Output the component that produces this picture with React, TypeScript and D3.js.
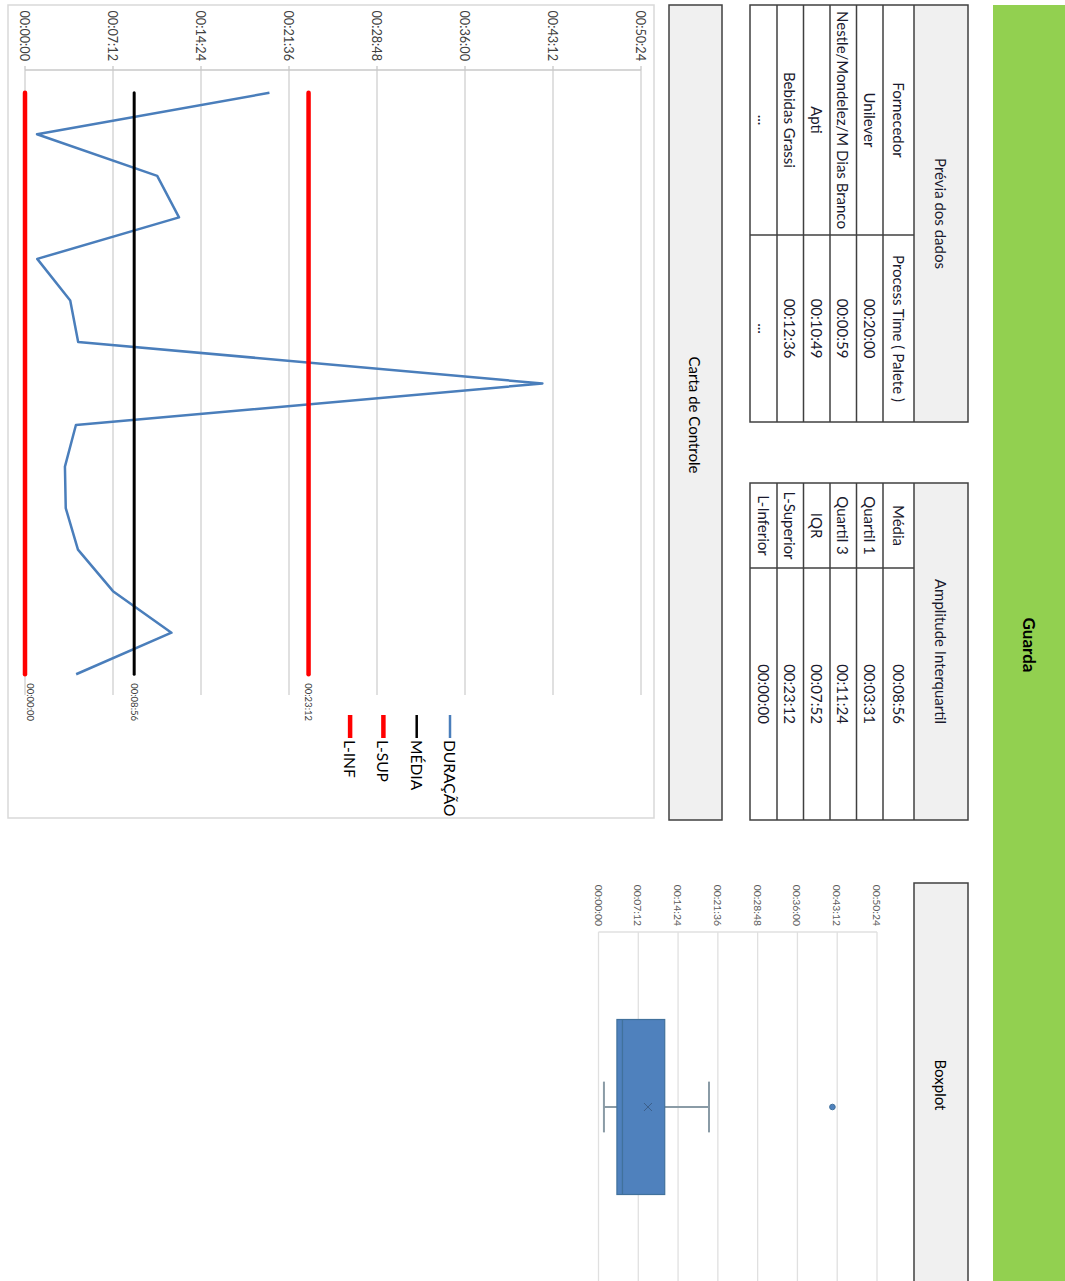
import * as d3 from 'd3'

const PAGE_W = 1065
const PAGE_H = 1281
const FONT = "Lato, 'Liberation Sans', sans-serif"
const BORDER = '#404040'
const HEAD_FILL = '#f0f0f0'

// preview table
const PREVIEW_COLS = ['Fornecedor', 'Process Time ( Palete )']
const SUPPLIERS = ['Unilever', 'Nestle/Mondelez/M Dias Branco', 'Apti', 'Bebidas Grassi', '...']
const PROCESS_TIMES = ['00:20:00', '00:00:59', '00:10:49', '00:12:36', '...']

// interquartile table
const STAT_LABELS = ['Média', 'Quartil 1', 'Quartil 3', 'IQR', 'L-Superior', 'L-Inferior']
const STAT_VALUES = ['00:08:56', '00:03:31', '00:11:24', '00:07:52', '00:23:12', '00:00:00']

// control chart series (seconds)
const DURATION = [1200, 59, 649, 756, 60, 222, 261, 2540, 250, 196, 200, 260, 432, 719, 251]
const LIMIT_NAMES = ['MÉDIA', 'L-SUP', 'L-INF']
const LIMIT_VALUES = [536, 1392, 0]
const LIMIT_COLORS = ['#000000', '#ff0000', '#ff0000']
const LIMIT_WIDTHS = [3, 4.5, 4.5]
const LEGEND_NAMES = ['DURAÇÃO', 'MÉDIA', 'L-SUP', 'L-INF']
const LEGEND_COLORS = ['#4a7ebb', '#000000', '#ff0000', '#ff0000']

// axis ticks every 7:12
const TICKS = d3.range(0, 3024 + 1, 432)

const fmt = (s: number) => d3.utcFormat('%H:%M:%S')(new Date(s * 1000))

function quartileExc(sorted: number[], p: number) {
  const pos = p * (sorted.length + 1) - 1
  const lo = Math.floor(pos)
  const frac = pos - lo
  const hi = Math.min(lo + 1, sorted.length - 1)
  return sorted[lo] + (sorted[hi] - sorted[lo]) * frac
}

// everything below is laid out on the landscape sheet (u across, v down)
// and the whole sheet is turned 90deg clockwise at the end
function Table({ u0, u1, split, title, rows }: { u0: number; u1: number; split: number; title: string; rows: string[][] }) {
  const lines = [97, 151, 182, 208.5, 235, 261.5, 288, 315]
  return (
    <g fontFamily={FONT} fontSize={15} fill="#1a1a2e">
      <rect x={u0} y={97} width={u1 - u0} height={54} fill={HEAD_FILL} />
      <rect x={u0} y={97} width={u1 - u0} height={218} fill="none" stroke={BORDER} strokeWidth={1.5} />
      {lines.slice(1, -1).map((v) => (
        <line key={v} x1={u0} x2={u1} y1={v} y2={v} stroke={BORDER} strokeWidth={1.5} />
      ))}
      <line x1={split} x2={split} y1={151} y2={315} stroke={BORDER} strokeWidth={1.5} />
      <text x={(u0 + u1) / 2} y={124} textAnchor="middle" dominantBaseline="central">
        {title}
      </text>
      {rows.map((r, i) => (
        <g key={i}>
          <text x={(u0 + split) / 2} y={(lines[i + 1] + lines[i + 2]) / 2} textAnchor="middle" dominantBaseline="central">
            {r[0]}
          </text>
          <text x={(split + u1) / 2} y={(lines[i + 1] + lines[i + 2]) / 2} textAnchor="middle" dominantBaseline="central">
            {r[1]}
          </text>
        </g>
      ))}
    </g>
  )
}

function ControlChart() {
  const x = d3.scalePoint<number>().domain(d3.range(DURATION.length)).range([72, 695]).padding(0.5)
  const y = d3.scaleLinear().domain([0, 3024]).range([1040, 424])
  const line = d3
    .line<number>()
    .x((_, i) => x(i) ?? 0)
    .y((d) => y(d))
  const first = x(0) ?? 0
  const last = x(DURATION.length - 1) ?? 0

  return (
    <g fontFamily={FONT}>
      <rect x={5} y={411} width={813} height={646} fill="#fff" stroke="#d9d9d9" strokeWidth={1.5} />
      {TICKS.map((t) => (
        <g key={t}>
          <line x1={70} x2={695} y1={y(t)} y2={y(t)} stroke="#d0d0d0" strokeWidth={1.3} />
          <line x1={66} x2={70} y1={y(t)} y2={y(t)} stroke="#c8c8c8" strokeWidth={1.3} />
          <text x={61} y={y(t)} textAnchor="end" dominantBaseline="central" fontSize={12.7} fill="#404040">
            {fmt(t)}
          </text>
        </g>
      ))}
      <line x1={70} x2={70} y1={y(0)} y2={y(3024)} stroke="#c8c8c8" strokeWidth={1.3} />
      <path d={line(DURATION) ?? undefined} fill="none" stroke="#4a7ebb" strokeWidth={2.5} strokeLinejoin="round" />
      {LIMIT_VALUES.map((val, i) => (
        <g key={LIMIT_NAMES[i]}>
          <line x1={first} x2={last} y1={y(val)} y2={y(val)} stroke={LIMIT_COLORS[i]} strokeWidth={LIMIT_WIDTHS[i]} strokeLinecap="round" />
          <text x={last + 9} y={Math.min(y(val), 1035)} dominantBaseline="central" fontSize={9.5} fill="#404040">
            {fmt(val)}
          </text>
        </g>
      ))}
      {LEGEND_NAMES.map((name, i) => {
        const v = 615 + i * 33.3
        return (
          <g key={name}>
            <line x1={715} x2={738} y1={v} y2={v} stroke={LEGEND_COLORS[i]} strokeWidth={i < 2 ? 2.5 : 4.5} />
            <text x={740} y={v} dominantBaseline="central" fontSize={15.6} fill="#000">
              {name}
            </text>
          </g>
        )
      })}
    </g>
  )
}

function BoxPlot() {
  const y = d3.scaleLinear().domain([0, 3024]).range([466.5, 188])
  const band = d3.scaleBand().domain(['Guarda']).range([932, 1282]).paddingInner(0.5).paddingOuter(0.25)
  const sorted = [...DURATION].sort((a, b) => a - b)
  const q1 = quartileExc(sorted, 0.25)
  const q3 = quartileExc(sorted, 0.75)
  const med = quartileExc(sorted, 0.5)
  const iqr = q3 - q1
  const inside = sorted.filter((d) => d >= q1 - 1.5 * iqr && d <= q3 + 1.5 * iqr)
  const lo = d3.min(inside) ?? 0
  const hi = d3.max(inside) ?? 0
  const outliers = sorted.filter((d) => d < lo || d > hi)
  const mean = d3.mean(DURATION) ?? 0
  const b0 = band('Guarda') ?? 0
  const bw = band.bandwidth()
  const c = b0 + bw / 2
  const cap = bw * 0.29

  return (
    <g fontFamily={FONT}>
      {TICKS.map((t) => (
        <g key={t}>
          <line x1={932} x2={1295} y1={y(t)} y2={y(t)} stroke="#e0e0e0" strokeWidth={1.3} />
          <text x={926} y={y(t)} textAnchor="end" dominantBaseline="central" fontSize={10.4} fill="#595959">
            {fmt(t)}
          </text>
        </g>
      ))}
      <line x1={932} x2={932} y1={y(0)} y2={y(3024)} stroke="#e0e0e0" strokeWidth={1.3} />
      <g stroke="#8a9ba6" strokeWidth={2}>
        <line x1={c} x2={c} y1={y(q1)} y2={y(lo)} />
        <line x1={c} x2={c} y1={y(q3)} y2={y(hi)} />
        <line x1={c - cap / 2} x2={c + cap / 2} y1={y(lo)} y2={y(lo)} />
        <line x1={c - cap / 2} x2={c + cap / 2} y1={y(hi)} y2={y(hi)} />
      </g>
      <rect x={b0} y={y(q3)} width={bw} height={y(q1) - y(q3)} fill="#4f81bd" stroke="#41719c" strokeWidth={1.2} />
      <line x1={b0} x2={b0 + bw} y1={y(med)} y2={y(med)} stroke="#41719c" strokeWidth={1.3} />
      <g stroke="#3c5f8a" strokeWidth={1}>
        <line x1={c - 4} x2={c + 4} y1={y(mean) - 4} y2={y(mean) + 4} />
        <line x1={c - 4} x2={c + 4} y1={y(mean) + 4} y2={y(mean) - 4} />
      </g>
      {outliers.map((o) => (
        <circle key={o} cx={c} cy={y(o)} r={2.8} fill="#4f81bd" stroke="#41719c" />
      ))}
    </g>
  )
}

export default function App() {
  return (
    <svg width={PAGE_W} height={PAGE_H} style={{ position: 'absolute', left: 0, top: 0, background: '#fff' }}>
      <g transform={`translate(${PAGE_W},0) rotate(90)`}>
        <rect x={5} y={0} width={1290} height={72} fill="#92d050" />
        <text x={645} y={36} textAnchor="middle" dominantBaseline="central" fontFamily={FONT} fontSize={17} fontWeight="bold">
          Guarda
        </text>

        <Table
          u0={5}
          u1={422}
          split={235}
          title="Prévia dos dados"
          rows={[PREVIEW_COLS, ...SUPPLIERS.map((s, i) => [s, PROCESS_TIMES[i]])]}
        />
        <Table u0={483} u1={820} split={568} title="Amplitude Interquartil" rows={STAT_LABELS.map((s, i) => [s, STAT_VALUES[i]])} />

        <rect x={883} y={97} width={420} height={54} fill={HEAD_FILL} stroke={BORDER} strokeWidth={1.5} />
        <text x={1085} y={124} textAnchor="middle" dominantBaseline="central" fontFamily={FONT} fontSize={15}>
          Boxplot
        </text>

        <rect x={5} y={343} width={815} height={53} fill={HEAD_FILL} stroke={BORDER} strokeWidth={1.5} />
        <text x={415} y={370} textAnchor="middle" dominantBaseline="central" fontFamily={FONT} fontSize={15}>
          Carta de Controle
        </text>

        <ControlChart />
        <BoxPlot />
      </g>
    </svg>
  )
}
